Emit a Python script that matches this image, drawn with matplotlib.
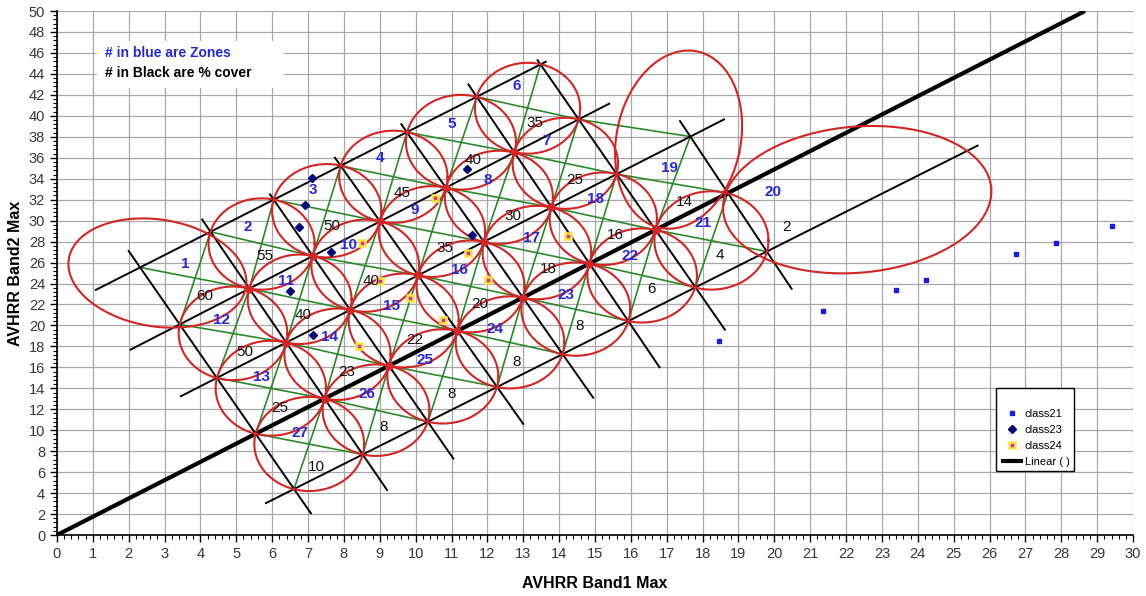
import numpy as np
import matplotlib
matplotlib.use("Agg")
import matplotlib.pyplot as plt
from matplotlib.lines import Line2D
from matplotlib.patches import Rectangle

plt.rcParams['font.family'] = ['Liberation Sans', 'DejaVu Sans']

# black guide lines that run up-right (top to bottom)
up_x0 = [1.06, 2.03, 3.43, 0.0, 5.80]
up_y0 = [23.35, 17.65, 13.2, 0.0, 3.0]
up_x1 = [13.65, 15.42, 18.62, 28.66, 25.69]
up_y1 = [45.2, 41.2, 39.7, 50.0, 37.2]

# black guide lines that run steeply down-right (left to right)
dn_x0 = [2.00, 4.05, 5.94, 7.75, 9.60, 11.47, 13.40, 17.37]
dn_y0 = [27.1, 30.1, 32.5, 36.0, 39.2, 43.0, 45.3, 39.5]
dn_x1 = [7.08, 9.20, 11.05, 13.00, 14.95, 16.80, 18.62, 20.48]
dn_y1 = [2.07, 4.3, 7.3, 10.6, 13.1, 16.0, 19.6, 23.5]

# cells drawn as a big free ellipse instead of the circumscribed one (zone 1, zone 19)
replaced_cells = [(0, 0), (2, 6)]

# big ellipses of zones 1, 19, 20: centre, half width, half height, tilt (deg)
big_cx = [2.8, 17.33, 22.31]
big_cy = [25.0, 37.73, 32.0]
big_rx = [2.5, 1.73, 3.75]
big_ry = [5.1, 8.6, 6.97]
big_tilt = [-9, -12, 5]

# zone numbers (blue)
zone_x = [3.57, 5.33, 7.15, 9.0, 11.0, 12.81, 13.65, 12.0, 9.98, 8.12, 6.4, 4.59, 5.7, 7.61,
          9.33, 11.23, 13.23, 15.0, 17.09, 19.96, 18.02, 15.97, 14.2, 12.2, 10.26, 8.63, 6.77]
zone_y = [25.9, 29.4, 32.95, 36.0, 39.2, 42.8, 37.6, 33.9, 31.0, 27.7, 24.2, 20.5, 15.1, 18.9,
          21.9, 25.3, 28.3, 32.1, 35.0, 32.7, 29.8, 26.6, 22.9, 19.7, 16.7, 13.5, 9.7]

# % cover numbers (black)
cover_txt = ['60', '55', '50', '45', '40', '35', '50', '40', '40', '35', '30', '25', '25', '23',
             '22', '20', '18', '16', '14', '10', '8', '8', '8', '8', '6', '4', '2']
cover_x = [4.13, 5.8, 7.66, 9.61, 11.61, 13.33, 5.24, 6.87, 8.77, 10.82, 12.72, 14.44, 6.22, 8.08,
           9.98, 11.79, 13.7, 15.56, 17.5, 7.24, 9.1, 11.0, 12.82, 14.58, 16.58, 18.48, 20.34]
cover_y = [22.8, 26.6, 29.5, 32.6, 35.8, 39.3, 17.5, 21.0, 24.2, 27.4, 30.4, 33.9, 12.1, 15.6,
           18.6, 22.0, 25.4, 28.65, 31.8, 6.5, 10.35, 13.5, 16.55, 19.9, 23.5, 26.7, 29.4]

# scatter series
c21_x = [18.46, 21.35, 23.39, 24.23, 26.75, 27.85, 29.42]
c21_y = [18.5, 21.4, 23.4, 24.3, 26.8, 27.9, 29.45]
c23_x = [7.10, 6.91, 6.75, 7.64, 6.50, 7.15, 11.42, 11.56]
c23_y = [34.07, 31.52, 29.35, 26.96, 23.24, 19.1, 34.93, 28.65]
c24_x = [8.5, 10.54, 11.47, 12.02, 14.25, 9.84, 10.77, 8.43, 9.0]
c24_y = [27.9, 32.2, 26.9, 24.3, 28.5, 22.6, 20.5, 18.05, 24.2]

RED = '#d42525'
GREEN = '#2a8a2a'
BLUE = '#2828d8'

fig = plt.figure(figsize=(11.46, 5.96), dpi=100)
ax = fig.add_axes([0.0497, 0.1023, 0.9390, 0.8792])
ax.set_xlim(0, 30)
ax.set_ylim(0, 50)
# pixels per x unit over pixels per y unit, for ellipses drawn in screen space
K = (0.9390 * 1146 / 30) / (0.8792 * 596 / 50)


def cross(i, j):
    p = np.array([up_x0[i], up_y0[i]])
    r = np.array([up_x1[i] - up_x0[i], up_y1[i] - up_y0[i]])
    q = np.array([dn_x0[j], dn_y0[j]])
    s = np.array([dn_x1[j] - dn_x0[j], dn_y1[j] - dn_y0[j]])
    den = r[0] * s[1] - r[1] * s[0]
    w = q - p
    t = (w[0] * s[1] - w[1] * s[0]) / den
    u = (w[0] * r[1] - w[1] * r[0]) / den
    if -0.02 <= t <= 1.02 and -0.02 <= u <= 1.02:
        return p + t * r
    return None


nodes = [[cross(i, j) for j in range(len(dn_x0))] for i in range(len(up_x0))]
tt = np.linspace(0, 2 * np.pi, 400)

# green diagonals of every cell
for i in range(len(up_x0) - 1):
    for j in range(len(dn_x0) - 1):
        for a, b in [(nodes[i][j], nodes[i + 1][j + 1]), (nodes[i][j + 1], nodes[i + 1][j])]:
            if a is not None and b is not None:
                ax.plot([a[0], b[0]], [a[1], b[1]], color=GREEN, lw=1.2, zorder=2)

# black guide lines
for i in range(len(up_x0)):
    lw = 3.0 if i == 3 else 1.4
    ln, = ax.plot([up_x0[i], up_x1[i]], [up_y0[i], up_y1[i]], color='black', lw=lw,
                  zorder=3, solid_capstyle='butt')
    if i == 3:
        h_lin = ln
for j in range(len(dn_x0)):
    ax.plot([dn_x0[j], dn_x1[j]], [dn_y0[j], dn_y1[j]], color='black', lw=1.4, zorder=3)

# red ellipses circumscribing each cell
touch = {}
for i in range(len(up_x0) - 1):
    for j in range(len(dn_x0) - 1):
        A, B, C, D = nodes[i][j], nodes[i][j + 1], nodes[i + 1][j], nodes[i + 1][j + 1]
        if any(n is None for n in (A, B, C, D)) or (i, j) in replaced_cells:
            continue
        for key in [(i, j), (i, j + 1), (i + 1, j), (i + 1, j + 1)]:
            touch[key] = touch.get(key, 0) + 1
        cen = (A + B + C + D) / 4
        d1 = (A - D) / 2
        d2 = (B - C) / 2
        M = np.array([[d1[0] ** 2, d1[1] ** 2], [d2[0] ** 2, d2[1] ** 2]])
        p, q = np.linalg.solve(M, [1.0, 1.0])
        ax.plot(cen[0] + np.cos(tt) / np.sqrt(p), cen[1] + np.sin(tt) / np.sqrt(q),
                color=RED, lw=1.5, zorder=4)

for cx, cy, rx, ry, dg in zip(big_cx, big_cy, big_rx, big_ry, big_tilt):
    th = np.radians(dg)
    ex, ey = rx * K * np.cos(tt), ry * np.sin(tt)
    X = ex * np.cos(th) - ey * np.sin(th)
    Y = ex * np.sin(th) + ey * np.cos(th)
    ax.plot(cx + X / K, cy + Y, color=RED, lw=1.5, zorder=4)

# red knots where several ellipses meet
for (i, j), n in touch.items():
    if n >= 3:
        ax.plot(nodes[i][j][0], nodes[i][j][1], 'o', ms=5, color=RED, zorder=4.5)

# scatter series
h21, = ax.plot(c21_x, c21_y, 's', ms=3.2, color='#1a1ae6', ls='none', zorder=5)
h23, = ax.plot(c23_x, c23_y, 'D', ms=4.2, color='#00007a', ls='none', zorder=5)
h24, = ax.plot(c24_x, c24_y, 's', ms=4.5, mfc='#d6309a', mec='#ffe640', mew=1.8,
               ls='none', zorder=5)

for k in range(len(zone_x)):
    ax.text(zone_x[k], zone_y[k], str(k + 1), color=BLUE, fontsize=11, fontweight='bold',
            ha='center', va='center', zorder=6)
for s, x, y in zip(cover_txt, cover_x, cover_y):
    ax.text(x, y, s, color='#111111', fontsize=11, ha='center', va='center', zorder=6)

# note box
ax.add_patch(Rectangle((1.12, 42.7), 5.2, 4.4, facecolor='white', edgecolor='none', zorder=1.5))
ax.text(1.35, 46.0, '# in blue are Zones', color=BLUE, fontsize=10, fontweight='bold',
        va='center', zorder=6)
ax.text(1.35, 44.1, '# in Black are % cover', color='black', fontsize=10, fontweight='bold',
        va='center', zorder=6)

# axes styling
ax.set_xticks(np.arange(0, 31, 1))
ax.set_yticks(np.arange(0, 51, 2))
ax.set_xticks(np.arange(0, 30.01, 0.2), minor=True)
ax.set_yticks(np.arange(0, 50.01, 0.4), minor=True)
ax.grid(True, which='major', color='#a8a8a8', lw=0.9, zorder=0)
ax.set_axisbelow(True)
ax.tick_params(which='major', direction='out', length=5, width=1, labelsize=10.5,
               labelcolor='#383838')
ax.tick_params(which='minor', direction='out', length=3, width=0.8)
for side in ['top', 'right']:
    ax.spines[side].set_visible(False)
for side in ['left', 'bottom']:
    ax.spines[side].set_linewidth(1.2)
ax.set_xlabel('AVHRR Band1 Max', fontsize=11.5, fontweight='bold', labelpad=11)
ax.set_ylabel('AVHRR Band2 Max', fontsize=11.5, fontweight='bold', labelpad=4)

blank = Line2D([], [], ls='none')
leg = ax.legend([blank, h21, h23, h24, h_lin], [' ', 'class21', 'class23', 'class24', 'Linear ( )'],
                loc='upper left', bbox_to_anchor=(0.8727, 0.2805), borderaxespad=0,
                fontsize=8, handlelength=2.0, handletextpad=0.2, labelspacing=0.55,
                borderpad=0.4, fancybox=False, framealpha=1, edgecolor='black')
leg.get_frame().set_linewidth(1.0)
leg.set_zorder(7)

fig.savefig('out.png', dpi=100)
